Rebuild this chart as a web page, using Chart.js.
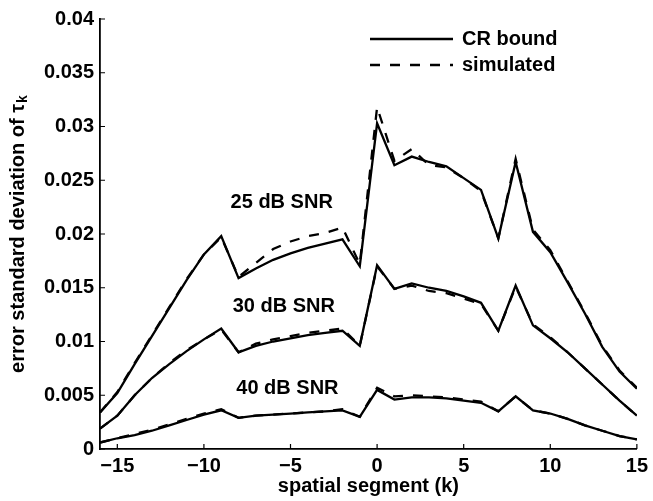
<!DOCTYPE html>
<html>
<head>
<meta charset="utf-8">
<script src="https://cdn.jsdelivr.net/npm/chart.js@4.4.0/dist/chart.umd.min.js"></script>
<style>
  html, body { margin: 0; padding: 0; background: #fff; }
  #wrap { width: 653px; height: 501px; }
</style>
</head>
<body>
<div id="wrap"><canvas id="errChart"></canvas></div>
<script>
// spatial segments k
const segments = [-16, -15, -14, -13, -12, -11, -10, -9, -8, -7, -6, -5, -4, -3, -2, -1,
                  0, 1, 2, 3, 4, 5, 6, 7, 8, 9, 10, 11, 12, 13, 14, 15];

// error std of tau_k, CR bound and simulated, per SNR
const crBound25 = [0.0034, 0.0052, 0.0079, 0.0105, 0.0131, 0.0157, 0.0181, 0.0198,
                   0.0159, 0.0168, 0.0176, 0.0182, 0.0187, 0.0191, 0.0195, 0.0170,
                   0.0303, 0.0264, 0.0272, 0.0267, 0.0263, 0.0252, 0.0241, 0.0196,
                   0.0267, 0.0202, 0.0183, 0.0155, 0.0126, 0.0095, 0.0072, 0.0056];
const simulated25 = [0.0034, 0.0053, 0.0080, 0.0106, 0.0132, 0.0158, 0.0181, 0.0197,
                     0.0160, 0.0173, 0.0186, 0.0193, 0.0198, 0.0201, 0.0206, 0.0172,
                     0.0318, 0.0268, 0.0279, 0.0264, 0.0262, 0.0252, 0.0240, 0.0196,
                     0.0270, 0.0204, 0.0185, 0.0156, 0.0127, 0.0096, 0.0073, 0.0057];
const crBound30 = [0.0019, 0.0031, 0.0050, 0.0066, 0.0079, 0.0091, 0.0102, 0.0112,
                   0.0090, 0.0096, 0.0100, 0.0103, 0.0106, 0.0108, 0.0110, 0.0096,
                   0.0171, 0.0149, 0.0154, 0.0150, 0.0147, 0.0142, 0.0136, 0.0110,
                   0.0152, 0.0115, 0.0103, 0.0090, 0.0075, 0.0060, 0.0045, 0.0031];
const simulated30 = [0.0019, 0.0031, 0.0050, 0.0066, 0.0080, 0.0092, 0.0102, 0.0111,
                     0.0090, 0.0098, 0.0102, 0.0105, 0.0108, 0.0110, 0.0112, 0.0096,
                     0.0170, 0.0149, 0.0152, 0.0147, 0.0145, 0.0140, 0.0135, 0.0110,
                     0.0151, 0.0116, 0.0104, 0.0090, 0.0075, 0.0060, 0.0045, 0.0031];
const crBound40 = [0.0006, 0.0010, 0.0013, 0.0017, 0.0022, 0.0027, 0.0032, 0.0036,
                   0.0029, 0.0031, 0.0032, 0.0033, 0.0034, 0.0035, 0.0036, 0.0030,
                   0.0055, 0.0046, 0.0048, 0.0048, 0.0047, 0.0045, 0.0043, 0.0035,
                   0.0049, 0.0036, 0.0033, 0.0028, 0.0022, 0.0017, 0.0012, 0.0009];
const simulated40 = [0.0006, 0.0010, 0.0014, 0.0018, 0.0023, 0.0028, 0.0033, 0.0037,
                     0.0029, 0.0031, 0.0032, 0.0033, 0.0034, 0.0035, 0.0037, 0.0030,
                     0.0057, 0.0049, 0.0050, 0.0049, 0.0048, 0.0046, 0.0044, 0.0035,
                     0.0049, 0.0036, 0.0033, 0.0028, 0.0022, 0.0017, 0.0012, 0.0009];

const xTicks = [-15, -10, -5, 0, 5, 10, 15];
const yTicks = [0, 0.005, 0.01, 0.015, 0.02, 0.025, 0.03, 0.035, 0.04];
const yTickLabels = ['0', '0.005', '0.01', '0.015', '0.02', '0.025', '0.03', '0.035', '0.04'];
const legendLabels = ['CR bound', 'simulated'];
const snrLabels = ['25 dB SNR', '30 dB SNR', '40 dB SNR'];

const FONT = "'Liberation Sans', Arial, Helvetica, sans-serif";
const FS = 20;

function series(values) {
    return values.map((v, i) => ({ x: segments[i], y: v }));
}

function lineSet(label, values, dashed) {
    return {
        label: label,
        data: series(values),
        borderColor: '#000',
        borderWidth: 2.3,
        borderDash: dashed ? [10, 10] : [],
        pointRadius: 0,
        tension: 0,
        fill: false
    };
}

// tick marks pointing inward, rotated y title with subscript, legend, SNR captions
const decorations = {
    id: 'decorations',
    afterDraw(chart) {
        const { ctx, chartArea: a, scales: { x, y } } = chart;
        ctx.save();
        ctx.strokeStyle = '#000';
        ctx.fillStyle = '#000';
        ctx.lineWidth = 1.2;
        ctx.beginPath();
        xTicks.forEach(v => {
            const px = x.getPixelForValue(v);
            ctx.moveTo(px, a.bottom);
            ctx.lineTo(px, a.bottom - 5);
        });
        yTicks.forEach(v => {
            const py = y.getPixelForValue(v);
            ctx.moveTo(a.left, py);
            ctx.lineTo(a.left + 5, py);
        });
        ctx.stroke();

        // y axis title
        const main = 'error standard deviation of τ';
        ctx.font = `bold ${FS}px ${FONT}`;
        const w1 = ctx.measureText(main).width;
        ctx.font = `bold 14px ${FONT}`;
        const w2 = ctx.measureText('k').width;
        ctx.save();
        ctx.translate(18.5, (a.top + a.bottom) / 2);
        ctx.rotate(-Math.PI / 2);
        ctx.textBaseline = 'middle';
        ctx.textAlign = 'left';
        const start = -(w1 + w2 + 1) / 2;
        ctx.font = `bold ${FS}px ${FONT}`;
        ctx.fillText(main, start, 0);
        ctx.font = `bold 14px ${FONT}`;
        ctx.fillText('k', start + w1 + 1, 5);
        ctx.restore();

        // legend
        ctx.font = `bold ${FS}px ${FONT}`;
        ctx.textBaseline = 'middle';
        ctx.textAlign = 'left';
        ctx.lineWidth = 2.3;
        const legY = [39, 65];
        legendLabels.forEach((txt, i) => {
            ctx.setLineDash(i === 0 ? [] : [10, 10]);
            ctx.beginPath();
            ctx.moveTo(370, legY[i]);
            ctx.lineTo(453, legY[i]);
            ctx.stroke();
            ctx.fillText(txt, 462, legY[i]);
        });
        ctx.setLineDash([]);

        // SNR captions, anchored in data coordinates
        const anchors = [[-8.46, 0.0229], [-8.34, 0.01324], [-8.13, 0.00567]];
        snrLabels.forEach((txt, i) => {
            ctx.fillText(txt, x.getPixelForValue(anchors[i][0]), y.getPixelForValue(anchors[i][1]));
        });
        ctx.restore();
    }
};

const ctx = document.getElementById('errChart').getContext('2d');
const errChart = new Chart(ctx, {
    type: 'line',
    data: {
        datasets: [
            lineSet('simulated 25', simulated25, true),
            lineSet('simulated 30', simulated30, true),
            lineSet('simulated 40', simulated40, true),
            lineSet('CR bound 25', crBound25, false),
            lineSet('CR bound 30', crBound30, false),
            lineSet('CR bound 40', crBound40, false)
        ]
    },
    options: {
        responsive: true,
        maintainAspectRatio: false,
        animation: false,
        devicePixelRatio: 1,
        layout: { padding: { left: 0, right: 13, top: 19, bottom: 0 } },
        plugins: {
            legend: { display: false },
            tooltip: { enabled: false }
        },
        scales: {
            x: {
                type: 'linear',
                min: -16,
                max: 15,
                afterFit: s => { s.height = 52; },
                afterBuildTicks: s => { s.ticks = xTicks.map(v => ({ value: v })); },
                grid: { display: false, drawTicks: false },
                border: { display: true, color: '#000', width: 1.8 },
                ticks: {
                    autoSkip: false,
                    maxRotation: 0,
                    padding: 5,
                    color: '#000',
                    font: { family: FONT, size: FS, weight: 'bold' },
                    callback: v => (v < 0 ? '\u2212' + Math.abs(v) : String(v))
                },
                title: {
                    display: true,
                    text: 'spatial segment (k)',
                    color: '#000',
                    padding: { top: 0, bottom: 3 },
                    font: { family: FONT, size: FS, weight: 'bold' }
                }
            },
            y: {
                min: 0,
                max: 0.04,
                afterFit: s => { s.width = 100; },
                afterBuildTicks: s => { s.ticks = yTicks.map(v => ({ value: v })); },
                grid: { display: false, drawTicks: false },
                border: { display: true, color: '#000', width: 1.8 },
                ticks: {
                    padding: 6,
                    color: '#000',
                    font: { family: FONT, size: FS, weight: 'bold' },
                    callback: (v, i) => yTickLabels[i]
                }
            }
        }
    },
    plugins: [decorations]
});
</script>
</body>
</html>
